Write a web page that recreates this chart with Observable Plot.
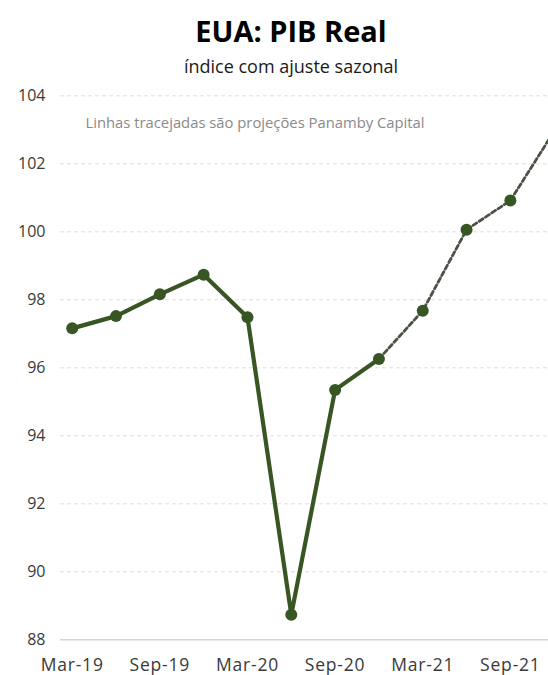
<!DOCTYPE html>
<html>
<head>
<meta charset="utf-8">
<script src="https://cdn.jsdelivr.net/npm/d3@7"></script>
<script src="https://cdn.jsdelivr.net/npm/@observablehq/plot@0.6"></script>
<style>
  html, body { margin: 0; padding: 0; background: #fff; overflow: hidden; }
  #wrap { position: relative; width: 548px; height: 675px; font-family: "Open Sans", sans-serif; }
  .title { position: absolute; left: 34px; right: 0; top: 17px; text-align: center; font-size: 29px; line-height: 28px; font-weight: 700; color: #000; }
  .subtitle { position: absolute; left: 34px; right: 0; top: 56.5px; text-align: center; font-size: 18px; line-height: 18px; color: #1a1a1a; }
  #chart { position: absolute; left: 0; top: 85px; }
  g[aria-label="x-axis tick label"] text { letter-spacing: 0.8px; }
</style>
</head>
<body>
<div id="wrap">
  <div class="title">EUA: PIB Real</div>
  <div class="subtitle">índice com ajuste sazonal</div>
  <div id="chart"></div>
</div>
<script>
const quarters = ["Mar-19","Jun-19","Sep-19","Dec-19","Mar-20","Jun-20","Sep-20","Dec-20","Mar-21","Jun-21","Sep-21","Dec-21"];
const actualValues = [97.16, 97.52, 98.16, 98.74, 97.49, 88.74, 95.35, 96.26];
const projectionStart = "Dec-20";
const projectionValues = [96.26, 97.68, 100.06, 100.92, 102.96];
const yTicks = [88, 90, 92, 94, 96, 98, 100, 102, 104];
const xTickLabels = ["Mar-19","Sep-19","Mar-20","Sep-20","Mar-21","Sep-21"];
const note = "Linhas tracejadas são projeções Panamby Capital";

const actual = actualValues.map((v, i) => ({i, v}));
const p0 = quarters.indexOf(projectionStart);
const projection = projectionValues.map((v, k) => ({i: p0 + k, v}));
const xTicks = xTickLabels.map(l => quarters.indexOf(l));

const green = "#375623";

const chart = Plot.plot({
  width: 548,
  height: 590,
  marginLeft: 60,
  marginRight: 0,
  marginTop: 10.3,
  marginBottom: 35.7,
  style: {fontFamily: "'Open Sans', sans-serif", background: "transparent", overflow: "hidden"},
  x: {domain: [-0.267, 10.87], label: null},
  y: {domain: [88, 104], label: null},
  marks: [
    Plot.ruleY(yTicks.filter(t => t > 88), {stroke: "#dedede", strokeWidth: 1, strokeDasharray: "4,3"}),
    Plot.ruleY([88], {stroke: "#d4d4d4", strokeWidth: 1.5}),
    Plot.axisY({ticks: yTicks, tickSize: 0, tickPadding: 15, fontSize: 16, color: "#3a3a3a", label: null}),
    Plot.axisX({ticks: xTicks, tickFormat: i => quarters[i], tickSize: 0, tickPadding: 19, fontSize: 17.5, color: "#3a3a3a", label: null}),
    Plot.line(projection, {x: "i", y: "v", stroke: "#4a5246", strokeWidth: 2.8, strokeDasharray: "4.5,3", clip: true}),
    Plot.line(actual, {x: "i", y: "v", stroke: green, strokeWidth: 4.2, clip: true}),
    Plot.dot(actual.concat(projection.slice(1)), {x: "i", y: "v", r: 6, fill: green, clip: true}),
    Plot.text([note], {frameAnchor: "top-left", dx: 25, dy: 22, textAnchor: "start", fontSize: 14.8, fill: "#8a8a8a"})
  ]
});
document.getElementById("chart").appendChild(chart);
</script>
</body>
</html>
